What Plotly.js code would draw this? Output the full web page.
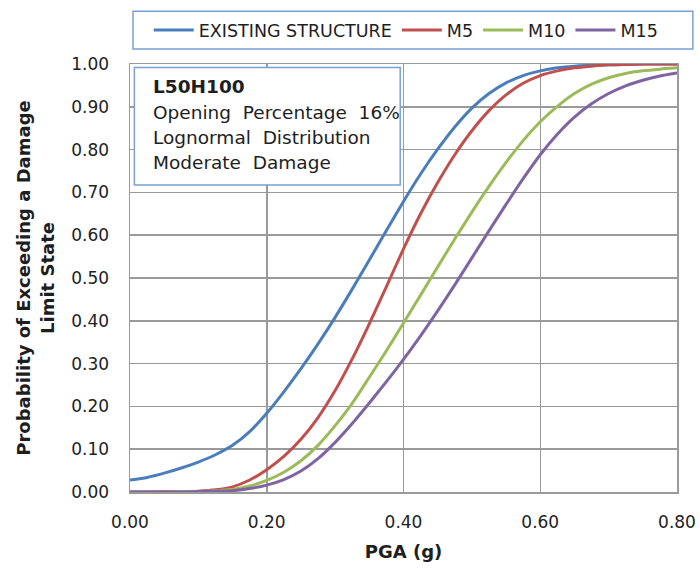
<!DOCTYPE html>
<html>
<head>
<meta charset="utf-8">
<script src="https://cdn.plot.ly/plotly-3.0.1.min.js"></script>
<style>html,body{margin:0;padding:0;background:#fff;}#chart{width:700px;height:568px;}</style>
</head>
<body>
<div id="chart"></div>
<script>
// PGA values (g)
var pga = [0.000,0.025,0.050,0.075,0.100,0.125,0.150,0.175,0.200,0.225,0.250,0.275,0.300,0.325,0.350,0.375,0.400,
           0.425,0.450,0.475,0.500,0.525,0.550,0.575,0.600,0.625,0.650,0.675,0.700,0.725,0.750,0.775,0.800];
// Probability of exceeding moderate damage limit state
var existing = [0.028,0.034,0.044,0.056,0.070,0.087,0.109,0.141,0.184,0.234,0.288,0.346,0.408,0.474,0.542,0.611,0.679,
                0.743,0.801,0.853,0.897,0.931,0.956,0.973,0.984,0.991,0.995,0.997,0.998,0.999,1.000,1.000,1.000];
var m5       = [0.000,0.000,0.001,0.001,0.002,0.005,0.012,0.028,0.052,0.083,0.123,0.174,0.237,0.311,0.393,0.480,0.568,
                0.650,0.723,0.788,0.844,0.891,0.928,0.955,0.973,0.984,0.991,0.995,0.998,0.999,1.000,1.000,1.000];
var m10      = [0.000,0.000,0.000,0.001,0.001,0.003,0.006,0.014,0.027,0.046,0.073,0.109,0.155,0.207,0.268,0.330,0.395,
                0.460,0.526,0.591,0.654,0.714,0.770,0.821,0.865,0.901,0.931,0.953,0.968,0.978,0.984,0.988,0.991];
var m15      = [0.000,0.000,0.000,0.000,0.001,0.002,0.003,0.008,0.016,0.029,0.049,0.078,0.116,0.160,0.208,0.258,0.310,
                0.365,0.423,0.484,0.547,0.610,0.672,0.732,0.788,0.836,0.876,0.907,0.931,0.949,0.962,0.972,0.979];

var seriesNames = ['EXISTING STRUCTURE','M5','M10','M15'];
var seriesData = [existing, m5, m10, m15];
var seriesColors = ['#4a7ebb','#c0504d','#9bbb59','#8064a2'];

var xTicks = [0.0,0.2,0.4,0.6,0.8];
var xTickText = ['0.00','0.20','0.40','0.60','0.80'];
var yTicks = [0,0.1,0.2,0.3,0.4,0.5,0.6,0.7,0.8,0.9,1.0];
var yTickText = ['0.00','0.10','0.20','0.30','0.40','0.50','0.60','0.70','0.80','0.90','1.00'];

var infoLines = ['<b>L50H100</b>','Opening\u00a0 Percentage\u00a0 16%','Lognormal\u00a0 Distribution','Moderate\u00a0 Damage'];

var traces = seriesNames.map(function(n,i){
  return {x: pga, y: seriesData[i], name: n, type:'scatter', mode:'lines',
    line:{color: seriesColors[i], width:3, shape:'spline', smoothing:0.6}};
});

var FONT = 'DejaVu Sans, Verdana, sans-serif';
var gridC = '#9a9a9a';

var infoY = [0.948,0.886,0.828,0.769];
var annotations = infoLines.map(function(t,i){
  return {xref:'paper', yref:'paper', x:0.0384, y:infoY[i], xanchor:'left', yanchor:'middle',
    text:t, showarrow:false, font:{family:FONT, size:18.5, color:'#1e1e1e'}};
});

var layout = {
  width:700, height:568,
  margin:{l:130, r:23, t:60, b:76},
  paper_bgcolor:'#fff', plot_bgcolor:'#fff',
  showlegend:true,
  legend:{orientation:'h', xref:'paper', yref:'paper', x:0.505, xanchor:'center', y:1.079, yanchor:'middle',
    font:{family:FONT, size:17.5, color:'#1e1e1e'}, borderwidth:0, bgcolor:'rgba(0,0,0,0)', itemwidth:40, tracegroupgap:0},
  xaxis:{range:[0,0.8], tickvals:xTicks, ticktext:xTickText, showgrid:true, gridcolor:gridC, gridwidth:1.5,
    showline:true, linecolor:gridC, linewidth:1.5, mirror:true, zeroline:false, ticks:'', ticklabelstandoff:14,
    tickfont:{family:FONT, size:17, color:'#222'},
    title:{text:'<b>PGA (g)</b>', font:{family:FONT, size:18, color:'#1e1e1e'}, standoff:14}},
  yaxis:{range:[0,1], tickvals:yTicks, ticktext:yTickText, showgrid:true, gridcolor:gridC, gridwidth:1.5,
    showline:true, linecolor:gridC, linewidth:1.5, mirror:true, zeroline:false, ticks:'', ticklabelstandoff:16,
    tickfont:{family:FONT, size:17, color:'#222'},
    title:{text:'<b>Probability of Exceeding a Damage<br>Limit State</b>', font:{family:FONT, size:18, color:'#1e1e1e'}, standoff:12}},
  shapes:[
    {type:'rect', xref:'paper', yref:'paper', x0:0.008, x1:0.494, y0:0.717, y1:0.992, layer:'above',
      fillcolor:'#fff', line:{color:'#7aa0d4', width:1.5}},
    {type:'rect', xref:'paper', yref:'paper', x0:0.0055, x1:1.029, y0:1.035, y1:1.123,
      fillcolor:'rgba(0,0,0,0)', line:{color:'#7aa0d4', width:1.5}}
  ],
  annotations: annotations
};

Plotly.newPlot('chart', traces, layout, {displayModeBar:false, staticPlot:true});
</script>
</body>
</html>
